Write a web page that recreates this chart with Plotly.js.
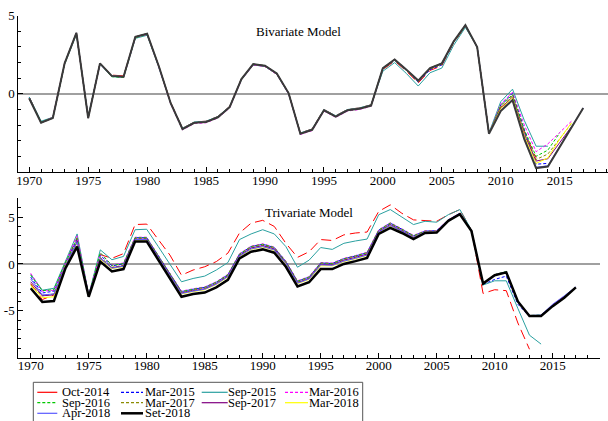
<!DOCTYPE html>
<html>
<head>
<meta charset="utf-8">
<script src="https://cdn.plot.ly/plotly-3.0.1.min.js"></script>
<style>
  html, body { margin: 0; padding: 0; background: #fff; }
  #chart { width: 608px; height: 421px; }
</style>
</head>
<body>
<div id="chart"></div>
<script>
// Years of the estimated output gap (1970-2017)
var years = [1970,1971,1972,1973,1974,1975,1976,1977,1978,1979,
             1980,1981,1982,1983,1984,1985,1986,1987,1988,1989,
             1990,1991,1992,1993,1994,1995,1996,1997,1998,1999,
             2000,2001,2002,2003,2004,2005,2006,2007,2008,2009,
             2010,2011,2012,2013,2014,2015,2016,2017];

var vintages = ['Oct-2014','Mar-2015','Sep-2015','Mar-2016','Sep-2016',
                'Mar-2017','Sep-2017','Mar-2018','Apr-2018','Set-2018'];

// ---- Bivariate model, one array per data vintage ----
var biOct2014 = [-0.2,-1.8,-1.5,1.95,3.85,-1.5,1.95,1.2,1.15,3.6,
  3.8,1.75,-0.55,-2.2,-1.8,-1.75,-1.45,-0.8,0.95,1.9,
  1.75,1.25,0.05,-2.5,-2.25,-1.0,-1.4,-1.0,-0.9,-0.7,
  1.55,2.1,1.45,0.7,1.5,1.8,3.25,4.3,3.0,-2.5,
  -0.85,-0.45,-2.4,-4.1];
var biMar2015 = [-0.25,-1.8,-1.55,1.95,3.9,-1.5,1.95,1.15,1.1,3.6,
  3.85,1.7,-0.6,-2.25,-1.85,-1.8,-1.5,-0.85,0.95,1.9,
  1.8,1.3,0.05,-2.55,-2.3,-1.05,-1.45,-1.05,-0.95,-0.75,
  1.6,2.15,1.5,0.75,1.55,1.85,3.3,4.35,3.0,-2.55,
  -0.7,0.05,-2.3,-4.5,-4.45];
var biSep2015 = [-0.2,-1.75,-1.5,1.9,3.8,-1.45,1.9,1.1,1.05,3.55,
  3.75,1.7,-0.6,-2.2,-1.8,-1.75,-1.45,-0.8,0.9,1.85,
  1.75,1.25,0.0,-2.5,-2.25,-1.0,-1.4,-1.0,-0.9,-0.7,
  1.45,2.0,1.3,0.5,1.35,1.65,3.1,4.25,3.0,-2.5,
  -0.5,0.3,-1.7,-3.35,-3.35];
var biMar2016 = [-0.3,-1.85,-1.5,1.95,3.85,-1.55,1.9,1.15,1.05,3.6,
  3.8,1.7,-0.65,-2.3,-1.9,-1.85,-1.55,-0.9,0.9,1.85,
  1.75,1.25,0.0,-2.6,-2.35,-1.1,-1.5,-1.1,-1.0,-0.8,
  1.6,2.15,1.5,0.8,1.6,1.9,3.3,4.35,3.0,-2.55,
  -0.65,0.1,-2.0,-3.7,-3.2,-2.45,-1.75];
var biSep2016 = [-0.3,-1.8,-1.55,1.9,3.85,-1.55,1.95,1.1,1.05,3.6,
  3.8,1.75,-0.6,-2.25,-1.85,-1.8,-1.5,-0.85,0.95,1.9,
  1.8,1.3,0.05,-2.55,-2.3,-1.05,-1.45,-1.05,-0.95,-0.75,
  1.6,2.15,1.5,0.8,1.6,1.9,3.3,4.35,3.0,-2.55,
  -0.75,-0.05,-2.3,-4.0,-3.6,-2.5];
var biMar2017 = [-0.3,-1.85,-1.55,1.95,3.9,-1.55,1.95,1.15,1.1,3.65,
  3.85,1.75,-0.6,-2.25,-1.85,-1.8,-1.5,-0.85,0.95,1.9,
  1.8,1.3,0.05,-2.55,-2.3,-1.05,-1.45,-1.05,-0.95,-0.75,
  1.65,2.2,1.55,0.8,1.6,1.9,3.3,4.35,3.0,-2.55,
  -0.8,-0.1,-2.5,-4.2,-3.85,-2.9,-1.9];
var biSep2017 = [-0.3,-1.85,-1.55,1.95,3.9,-1.55,1.95,1.15,1.1,3.65,
  3.85,1.75,-0.6,-2.25,-1.85,-1.8,-1.5,-0.85,0.95,1.9,
  1.8,1.3,0.05,-2.55,-2.3,-1.05,-1.45,-1.05,-0.95,-0.75,
  1.65,2.2,1.55,0.85,1.65,1.95,3.35,4.4,3.0,-2.55,
  -0.9,-0.2,-2.6,-4.3,-4.15,-3.1,-2.1];
var biMar2018 = [-0.3,-1.85,-1.55,1.95,3.9,-1.55,1.95,1.15,1.1,3.65,
  3.85,1.75,-0.6,-2.25,-1.85,-1.8,-1.5,-0.85,0.95,1.9,
  1.8,1.3,0.05,-2.55,-2.3,-1.05,-1.45,-1.05,-0.95,-0.75,
  1.65,2.2,1.55,0.85,1.65,1.95,3.35,4.4,3.0,-2.55,
  -0.95,-0.25,-2.7,-4.45,-4.1,-2.9,-1.85];
var biApr2018 = [-0.3,-1.85,-1.55,1.95,3.9,-1.55,1.95,1.15,1.1,3.65,
  3.85,1.75,-0.6,-2.25,-1.85,-1.8,-1.5,-0.85,0.95,1.9,
  1.8,1.3,0.05,-2.55,-2.3,-1.05,-1.45,-1.05,-0.95,-0.75,
  1.65,2.2,1.55,0.85,1.65,1.95,3.35,4.4,3.0,-2.55,
  -1.05,-0.35,-2.85,-4.7,-4.6,-3.35,-2.15,-0.9];
var biSet2018 = [-0.3,-1.85,-1.55,1.95,3.9,-1.55,1.95,1.15,1.1,3.65,
  3.85,1.75,-0.6,-2.25,-1.85,-1.8,-1.5,-0.85,0.95,1.9,
  1.8,1.3,0.05,-2.55,-2.3,-1.05,-1.45,-1.05,-0.95,-0.75,
  1.65,2.2,1.55,0.85,1.65,1.95,3.35,4.4,3.0,-2.55,
  -1.1,-0.4,-2.9,-4.75,-4.65,-3.4,-2.2,-0.9];

// ---- Trivariate model, one array per data vintage ----
var triOct2014 = [-2.1,-3.8,-3.3,0.2,2.8,-3.4,1.0,0.6,1.1,4.2,
  4.25,2.6,0.95,-1.2,-0.65,-0.3,0.25,1.15,3.3,4.35,
  4.65,4.0,2.2,0.7,1.3,2.6,2.5,3.1,3.3,3.4,
  5.6,6.3,5.4,4.7,4.65,4.55,5.25,5.8,3.6,-3.15,
  -2.75,-2.85,-6.3,-9.1];
var triMar2015 = [-1.4,-3.1,-2.9,0.1,2.6,-3.4,0.9,-0.2,0.0,2.8,
  2.8,0.85,-1.05,-2.95,-2.7,-2.5,-1.95,-1.15,1.05,1.85,
  2.1,1.75,0.25,-1.85,-1.4,0.1,0.05,0.55,0.85,1.2,
  3.6,4.35,3.7,3.0,3.5,3.55,4.7,5.4,3.55,-2.2,
  -1.65,-1.3,-4.3,-5.6,-5.55];
var triSep2015 = [-1.1,-2.8,-2.6,0.4,3.2,-3.3,1.5,0.45,0.8,3.65,
  3.7,1.85,0.0,-1.9,-1.55,-1.3,-0.65,0.15,2.6,3.2,
  3.65,3.2,1.85,-0.35,0.4,1.75,1.55,2.2,2.45,2.65,
  5.25,5.8,5.0,4.2,4.55,4.45,5.25,5.8,3.6,-2.25,
  -1.8,-1.8,-4.75,-7.6,-8.55];
var triMar2016 = [-1.0,-2.9,-2.8,0.2,3.0,-3.3,1.1,-0.1,0.1,2.85,
  2.85,0.9,-1.0,-2.9,-2.65,-2.45,-1.9,-1.1,1.1,1.9,
  2.15,1.8,0.3,-1.8,-1.35,0.15,0.1,0.6,0.9,1.25,
  3.65,4.4,3.75,3.05,3.55,3.55,4.7,5.4,3.5,-2.1,
  -1.2,-0.9,-4.0,-5.5,-5.5,-4.35,-3.45];
var triSep2016 = [-1.2,-2.85,-2.75,0.15,2.7,-3.35,1.2,-0.15,0.05,2.8,
  2.8,0.85,-1.05,-2.95,-2.7,-2.5,-1.95,-1.15,1.05,1.85,
  2.1,1.75,0.25,-1.85,-1.4,0.1,0.05,0.55,0.85,1.2,
  3.6,4.35,3.7,3.0,3.5,3.5,4.65,5.35,3.5,-2.05,
  -1.15,-0.8,-4.0,-5.5,-5.45,-4.4];
var triMar2017 = [-2.2,-3.4,-3.2,-0.1,2.3,-3.45,0.7,-0.35,-0.15,2.7,
  2.7,0.75,-1.15,-3.05,-2.8,-2.6,-2.05,-1.25,0.95,1.75,
  2.0,1.65,0.15,-1.95,-1.5,0.0,-0.05,0.45,0.75,1.1,
  3.5,4.25,3.6,2.9,3.45,3.45,4.6,5.3,3.5,-2.05,
  -1.15,-0.85,-4.0,-5.5,-5.5,-4.4,-3.5];
var triSep2017 = [-1.9,-3.4,-3.3,-0.2,2.4,-3.45,0.6,-0.4,-0.2,2.65,
  2.65,0.7,-1.2,-3.1,-2.85,-2.65,-2.1,-1.3,0.9,1.7,
  1.95,1.6,0.1,-2.0,-1.55,-0.05,-0.1,0.4,0.7,1.05,
  3.45,4.2,3.55,2.85,3.4,3.4,4.6,5.3,3.5,-2.1,
  -1.2,-0.9,-4.0,-5.55,-5.5,-4.4,-3.5];
var triMar2018 = [-2.3,-3.6,-3.5,-0.2,2.2,-3.5,0.5,-0.5,-0.3,2.55,
  2.55,0.6,-1.3,-3.2,-2.95,-2.75,-2.2,-1.4,0.8,1.55,
  1.8,1.45,0.0,-2.1,-1.65,-0.2,-0.2,0.25,0.55,0.9,
  3.35,4.05,3.45,2.8,3.4,3.4,4.6,5.3,3.5,-2.1,
  -1.2,-0.9,-4.0,-5.55,-5.5,-4.45,-3.55,-2.5];
var triApr2018 = [-1.6,-3.3,-3.2,-0.2,2.3,-3.45,0.6,-0.45,-0.25,2.6,
  2.6,0.65,-1.25,-3.15,-2.9,-2.7,-2.15,-1.35,0.85,1.6,
  1.85,1.5,0.05,-2.05,-1.6,-0.1,-0.15,0.3,0.6,0.95,
  3.4,4.1,3.5,2.8,3.4,3.4,4.6,5.3,3.5,-2.1,
  -1.15,-0.85,-4.0,-5.5,-5.45,-4.3,-3.4,-2.45];
var triSet2018 = [-2.6,-4.05,-3.95,-0.45,1.85,-3.5,0.25,-0.8,-0.55,2.4,
  2.4,0.4,-1.55,-3.5,-3.2,-3.05,-2.5,-1.7,0.6,1.3,
  1.55,1.2,-0.3,-2.4,-1.95,-0.55,-0.55,0.0,0.3,0.65,
  3.2,3.85,3.3,2.65,3.3,3.35,4.6,5.3,3.5,-2.1,
  -1.2,-0.9,-4.0,-5.55,-5.55,-4.5,-3.6,-2.5];

var biSeries  = [biOct2014, biMar2015, biSep2015, biMar2016, biSep2016,
                 biMar2017, biSep2017, biMar2018, biApr2018, biSet2018];
var triSeries = [triOct2014, triMar2015, triSep2015, triMar2016, triSep2016,
                 triMar2017, triSep2017, triMar2018, triApr2018, triSet2018];

// Line styles per vintage
var colors = ['#ff0000','#0000ff','#2aa0a0','#ff00ff','#00c800',
              '#8c8c00','#800080','#ffff00','#5a5aff','#000000'];
var dashes = ['10px,5px','3px,2px','solid','3px,2px','3px,2px',
              '3px,2px','solid','solid','solid','solid'];
var widths = [1,1,1,1,1,1,1,1,1,2.5];

var traces = [];
vintages.forEach(function (name, i) {
  traces.push({
    type: 'scatter', mode: 'lines', name: name,
    x: years, y: biSeries[i], xaxis: 'x', yaxis: 'y',
    line: {color: i === 9 ? '#3a3a3a' : colors[i], width: i === 9 ? 2 : widths[i], dash: dashes[i]},
    hoverinfo: 'x+y+name'
  });
});
vintages.forEach(function (name, i) {
  traces.push({
    type: 'scatter', mode: 'lines', name: name,
    x: years, y: triSeries[i], xaxis: 'x2', yaxis: 'y2',
    line: {color: colors[i], width: widths[i], dash: dashes[i]},
    hoverinfo: 'x+y+name'
  });
});

var W = 608, H = 421;
function px(x) { return x / W; }
function py(y) { return 1 - y / H; }

var serif = "'Liberation Serif', 'Times New Roman', Times, serif";
var xTicks = [1970,1975,1980,1985,1990,1995,2000,2005,2010,2015];

function xAxis(domainRight, range, anchor) {
  return {
    domain: [px(18.3), px(domainRight)], range: range, anchor: anchor,
    showline: true, linecolor: '#000', linewidth: 1, mirror: false,
    showgrid: false, zeroline: false,
    tickmode: 'array', tickvals: xTicks, ticktext: xTicks.map(String),
    ticks: 'inside', ticklen: 5, tickwidth: 1, tickcolor: '#000',
    ticklabelstandoff: -4,
    minor: {tickmode: 'linear', tick0: 1970, dtick: 1, ticks: 'inside', ticklen: 3, tickwidth: 1, tickcolor: '#000', showgrid: false},
    tickfont: {family: serif, size: 13, color: '#000'}
  };
}
function yAxis(domain, range, anchor, vals) {
  return {
    domain: domain, range: range, anchor: anchor,
    showline: true, linecolor: '#000', linewidth: 1, mirror: false,
    showgrid: false, zeroline: true, zerolinecolor: '#a0a0a0', zerolinewidth: 1.5,
    tickmode: 'array', tickvals: vals, ticktext: vals.map(String),
    ticks: 'inside', ticklen: 5, tickwidth: 1, tickcolor: '#000',
    minor: {tickmode: 'linear', tick0: 0, dtick: 1, ticks: 'inside', ticklen: 3, tickwidth: 1, tickcolor: '#000', showgrid: false},
    tickfont: {family: serif, size: 13, color: '#000'}
  };
}

// Legend drawn as a compact boxed table below the lower panel
var legRows = [392.3, 402.7, 413.3];
var legLines = [[37.3,57.3],[121,143],[201.7,227.7],[285,308]];
var legText = [63.3,146,228.7,310];

var shapes = [{
  type: 'rect', xref: 'paper', yref: 'paper',
  x0: px(33.3), x1: px(362.7), y0: py(430), y1: py(382.3),
  line: {color: '#555', width: 1}, fillcolor: 'rgba(0,0,0,0)'
}];
var annotations = [
  {text: 'Bivariate Model', x: px(298), y: py(31), xref: 'paper', yref: 'paper',
   xanchor: 'center', yanchor: 'middle', showarrow: false,
   font: {family: serif, size: 13, color: '#000'}},
  {text: 'Trivariate Model', x: px(309), y: py(212.7), xref: 'paper', yref: 'paper',
   xanchor: 'center', yanchor: 'middle', showarrow: false,
   font: {family: serif, size: 13, color: '#000'}}
];
vintages.forEach(function (name, i) {
  var r = Math.floor(i / 4), c = i % 4;
  shapes.push({
    type: 'line', xref: 'paper', yref: 'paper',
    x0: px(legLines[c][0]), x1: px(legLines[c][1]), y0: py(legRows[r]), y1: py(legRows[r]),
    line: {color: colors[i], width: i === 9 ? 2.5 : 1.2, dash: (dashes[i] === '3px,2px') ? '3px,2px' : 'solid'}
  });
  annotations.push({
    text: name, x: px(legText[c] - 1), y: py(legRows[r]), xref: 'paper', yref: 'paper',
    xanchor: 'left', yanchor: 'middle', showarrow: false,
    borderpad: 0, borderwidth: 0,
    font: {family: serif, size: 12.5, color: '#000'}
  });
});

var layout = {
  width: W, height: H,
  margin: {l: 0, r: 0, t: 0, b: 0},
  paper_bgcolor: '#fff', plot_bgcolor: '#fff',
  showlegend: false,
  font: {family: serif, size: 13, color: '#000'},
  xaxis: xAxis(608, [1969.07, 2019.1], 'y'),
  yaxis: yAxis([py(172), py(15.7)], [-5, 5.001], 'x', [0, 5]),
  xaxis2: xAxis(600, [1968.93, 2019.08], 'y2'),
  yaxis2: yAxis([py(357.7), py(198.3)], [-10, 7], 'x2', [-5, 0, 5]),
  shapes: shapes,
  annotations: annotations
};
layout.yaxis2.ticktext = ['-5', '0', '5'];

Plotly.newPlot('chart', traces, layout, {staticPlot: true, displayModeBar: false});
</script>
</body>
</html>
